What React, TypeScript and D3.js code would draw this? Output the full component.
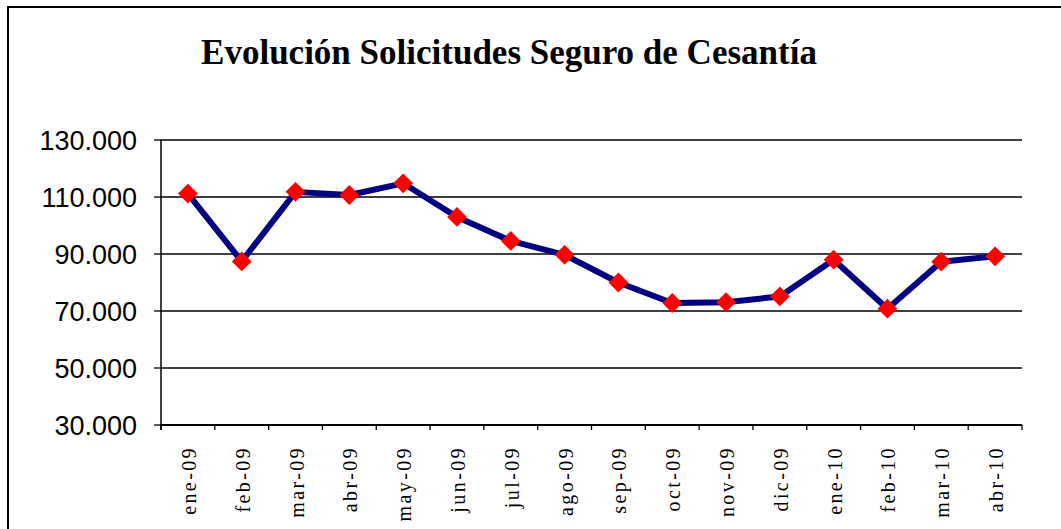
import React from 'react';
import * as d3 from 'd3';

const months = [
  'ene-09', 'feb-09', 'mar-09', 'abr-09', 'may-09', 'jun-09', 'jul-09', 'ago-09',
  'sep-09', 'oct-09', 'nov-09', 'dic-09', 'ene-10', 'feb-10', 'mar-10', 'abr-10',
];
const solicitudes = [
  111200, 87400, 111800, 110700, 114800, 103000, 94600, 89700,
  80000, 72800, 73100, 75100, 88000, 70800, 87300, 89200,
];
const yTicks = [30000, 50000, 70000, 90000, 110000, 130000];
const title = 'Evolución Solicitudes Seguro de Cesantía';

const W = 1061;
const H = 529;
const plot = { left: 161, right: 1022, top: 140, bottom: 425 };

const fmt = (v: number) => d3.format(',')(v).replace(/,/g, '.');

export default function App() {
  const x = d3.scaleBand<string>().domain(months).range([plot.left, plot.right]);
  const y = d3.scaleLinear().domain([30000, 130000]).range([plot.bottom, plot.top]);

  const line = d3.line<number>()
    .x((_, i) => (x(months[i]) as number) + x.bandwidth() / 2)
    .y(d => y(d));

  const diamond = d3.symbol().type(d3.symbolDiamond2).size(250)();

  const tickXs = months.map(m => x(m) as number).concat([plot.right]);

  return (
    <>
      <style>{`body{margin:0;}`}</style>
      <svg width={W} height={H} style={{ display: 'block', background: '#fff' }}>
        {/* frame */}
        <path d={`M8,${H} L8,7 L${W},7`} fill="none" stroke="#000" strokeWidth={2} />

        <text
          x={509}
          y={64}
          textAnchor="middle"
          fontFamily="'Liberation Serif', 'Times New Roman', serif"
          fontWeight="bold"
          fontSize={35}
        >
          {title}
        </text>

        {/* gridlines and y ticks */}
        {yTicks.map(t => (
          <g key={t}>
            <line x1={plot.left} x2={plot.right} y1={y(t)} y2={y(t)} stroke="#000" strokeWidth={1.6} />
            <line x1={154} x2={plot.left} y1={y(t)} y2={y(t)} stroke="#000" strokeWidth={1.3} />
            <text
              x={137}
              y={y(t)}
              dy="0.36em"
              textAnchor="end"
              fontFamily="'Liberation Sans', Arial, sans-serif"
              fontSize={27}
              fill="#000"
            >
              {fmt(t)}
            </text>
          </g>
        ))}

        {/* axes */}
        <line x1={plot.left} x2={plot.left} y1={plot.top} y2={plot.bottom + 5} stroke="#000" strokeWidth={1.5} />
        <line x1={plot.left} x2={plot.right} y1={plot.bottom} y2={plot.bottom} stroke="#000" strokeWidth={2} />
        {tickXs.map((tx, i) => (
          <line key={i} x1={tx} x2={tx} y1={plot.bottom} y2={plot.bottom + 5} stroke="#000" strokeWidth={1.3} />
        ))}

        {/* x labels */}
        {months.map(m => {
          const cx = (x(m) as number) + x.bandwidth() / 2;
          return (
            <text
              key={m}
              transform={`translate(${cx},446) rotate(-90)`}
              dy="0.4em"
              textAnchor="end"
              fontFamily="'Liberation Serif', 'Times New Roman', serif"
              fontSize={20}
              letterSpacing={2.4}
              fill="#000"
            >
              {m}
            </text>
          );
        })}

        {/* series */}
        <path d={line(solicitudes) || ''} fill="none" stroke="#000080" strokeWidth={6} strokeLinejoin="round" />
        {solicitudes.map((v, i) => (
          <path
            key={i}
            d={diamond || ''}
            transform={`translate(${(x(months[i]) as number) + x.bandwidth() / 2},${y(v)})`}
            fill="#ff0000"
          />
        ))}
      </svg>
    </>
  );
}
